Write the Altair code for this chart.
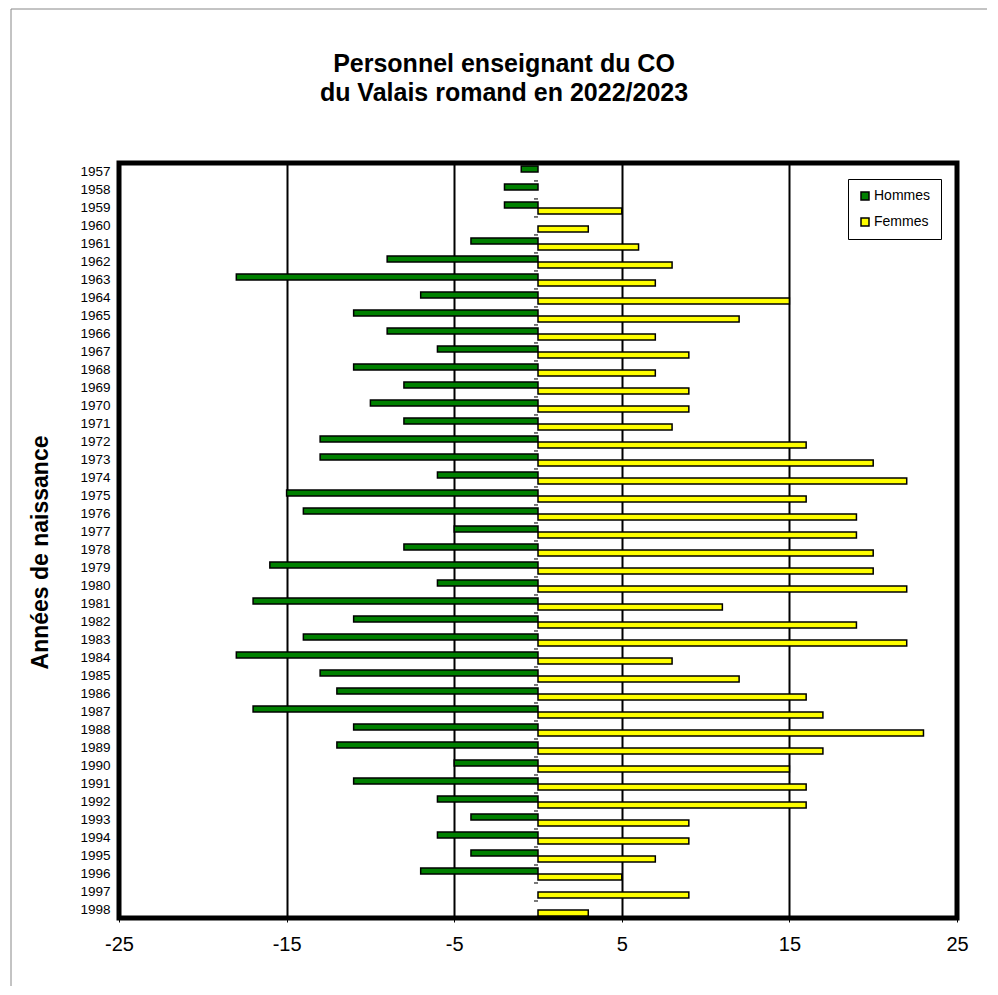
import altair as alt
import pandas as pd

TITRE = ["Personnel enseignant du CO", "du Valais romand en 2022/2023"]
annees = [str(y) for y in range(1957, 1999)]
hommes = [1, 2, 2, 0, 4, 9, 18, 7, 11, 9, 6, 11, 8, 10, 8, 13, 13, 6, 15, 14, 5,
          8, 16, 6, 17, 11, 14, 18, 13, 12, 17, 11, 12, 5, 11, 6, 4, 6, 4, 7, 0, 0]
femmes = [0, 0, 5, 3, 6, 8, 7, 15, 12, 7, 9, 7, 9, 9, 8, 16, 20, 22, 16, 19, 19,
          20, 20, 22, 11, 19, 22, 8, 12, 16, 17, 23, 17, 15, 16, 16, 9, 9, 7, 5, 9, 3]
sexes = ["Hommes", "Femmes"]
couleurs = ["#008000", "#FFFF00"]
ticks_x = [-25, -15, -5, 5, 15, 25]

rows = []
for a, h, f in zip(annees, hommes, femmes):
    rows.append({"annee": a, "sexe": "Hommes", "valeur": -h})
    rows.append({"annee": a, "sexe": "Femmes", "valeur": f})
df = pd.DataFrame(rows)

FONT = "Liberation Sans"

yscale = alt.Scale(paddingInner=0.33, paddingOuter=0.135, align=0.6)

bars = alt.Chart(df).transform_filter("datum.valeur != 0").mark_bar(
    stroke="black", strokeWidth=1.5
).encode(
    x=alt.X("valeur:Q",
            scale=alt.Scale(domain=[-25, 25], nice=False, zero=False),
            axis=alt.Axis(values=ticks_x, grid=True, gridColor="black", gridWidth=2,
                          gridOpacity=1, domain=False, tickColor="black", tickSize=4,
                          tickWidth=1, labelFontSize=20, labelPadding=12,
                          labelColor="black", labelFont=FONT, title=None,
                          labelFlush=False, labelExpr="'' + datum.value")),
    y=alt.Y("annee:O", sort=annees, scale=yscale,
            axis=alt.Axis(title="Années de naissance", ticks=False, domain=False,
                          labelFontSize=13.5, labelPadding=9, labelColor="black",
                          labelFont=FONT, titleFont=FONT, titleFontSize=23,
                          titleFontWeight="bold", titleColor="black", titleAngle=-90,
                          titleX=-79, titleY=389, titleBaseline="middle",
                          titleAlign="center")),
    yOffset=alt.YOffset("sexe:N", sort=sexes,
                        scale=alt.Scale(domain=sexes, paddingInner=0, paddingOuter=0)),
    color=alt.Color("sexe:N", scale=alt.Scale(domain=sexes, range=couleurs),
                    legend=alt.Legend(title=None, orient="none", legendX=729, legendY=16,
                                      fillColor="white", strokeColor="black",
                                      padding=10, rowPadding=12, symbolType="square",
                                      symbolSize=64, symbolStrokeColor="black",
                                      symbolStrokeWidth=1.5, labelFontSize=14,
                                      labelFont=FONT, labelColor="black",
                                      labelOffset=2)),
)

zero_ticks = alt.Chart(df).transform_filter("datum.sexe == 'Hommes'").mark_tick(
    orient="horizontal", color="black", size=4, thickness=1.5, xOffset=-2, yOffset=-3
).encode(
    x=alt.datum(0),
    y=alt.Y("annee:O", sort=annees, bandPosition=0),
)

single = pd.DataFrame({"f": [0]})

frame = alt.Chart(single).mark_rect(
    fill="white", fillOpacity=0, stroke="#888888", strokeWidth=1
).encode(
    x=alt.value(-108), x2=alt.value(1200), y=alt.value(-154), y2=alt.value(1200)
)

titre = alt.Chart(single).mark_text(
    text=TITRE, font=FONT, fontSize=25, fontWeight="bold", color="black",
    align="center", baseline="alphabetic", lineHeight=29
).encode(x=alt.value(385), y=alt.value(-91))

chart = alt.layer(frame, bars, zero_ticks, titre).properties(
    width=838, height=755,
    autosize=alt.AutoSizeParams(type="none"),
    padding={"left": 111, "top": 155, "right": 30, "bottom": 68},
).configure(background="white").configure_view(stroke="black", strokeWidth=5)

chart.save("out.html", embed_options={"renderer": "svg", "actions": False})
